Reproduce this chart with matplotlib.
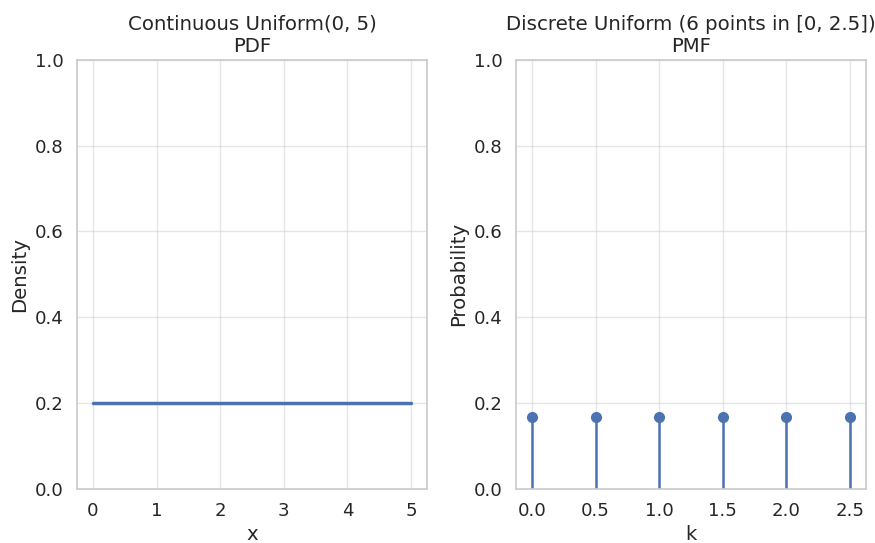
import numpy as np
import matplotlib
matplotlib.use("Agg")
import matplotlib.pyplot as plt
import seaborn as sns

sns.set_theme(style="whitegrid", font_scale=1.185)

cont_x = [0, 5]
cont_density = [0.2, 0.2]
disc_k = [0.0, 0.5, 1.0, 1.5, 2.0, 2.5]
disc_p = [1/6, 1/6, 1/6, 1/6, 1/6, 1/6]

fig, (ax1, ax2) = plt.subplots(1, 2, figsize=(8.75, 5.43), dpi=100)
c = sns.color_palette()[0]

ax1.plot(cont_x, cont_density, color=c, lw=2.5)
ax1.set_ylim(0, 1)
ax1.set_title("Continuous Uniform(0, 5)\nPDF")
ax1.set_xlabel("x")
ax1.set_ylabel("Density")

ml, sl, bl = ax2.stem(disc_k, disc_p, basefmt=" ")
plt.setp(ml, color=c, markersize=7)
plt.setp(sl, color=c, lw=1.8)
ax2.set_ylim(0, 1)
ax2.set_title("Discrete Uniform (6 points in [0, 2.5])\nPMF")
ax2.set_xlabel("k")
ax2.set_ylabel("Probability")

for ax in (ax1, ax2):
    ax.grid(True, alpha=0.5)

fig.subplots_adjust(left=0.088, right=0.9897, top=0.8895, bottom=0.100, wspace=0.254)
fig.savefig("out.png", dpi=100)
